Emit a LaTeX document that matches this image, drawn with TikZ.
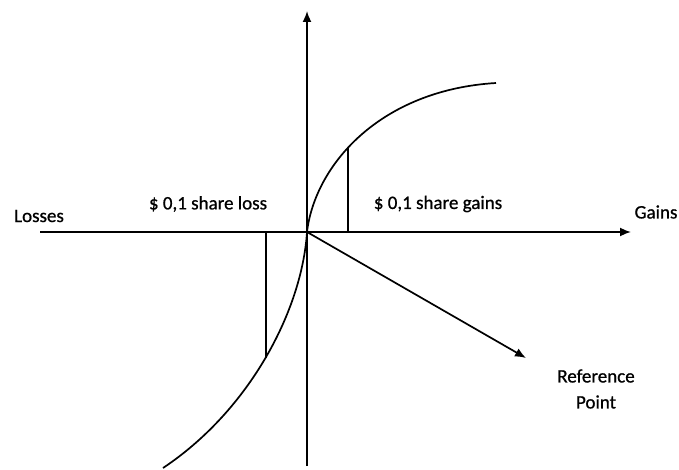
\documentclass[tikz,border=0pt]{standalone}
\usepackage{fontspec}
\setmainfont{Carlito}
\newfontfamily\lblfont{Carlito}[FakeBold=0.8]
\usetikzlibrary{arrows.meta}
\begin{document}
\begin{tikzpicture}[x=1pt,y=-1pt,
  axis/.style={line width=1.7pt,-{Latex[length=11pt,width=9pt]}},
  curveline/.style={line width=1.7pt},
  lbl/.style={font=\lblfont\fontsize{19}{22}\selectfont,inner sep=0pt,align=center}]
\useasboundingbox (0,0) rectangle (679,470);
\coordinate (O) at (307,232);
\coordinate (xl) at (40,232);
\coordinate (xr) at (631,232);
\coordinate (yb) at (307,466);
\coordinate (yt) at (307,11);
\coordinate (ref) at (526,358);
\coordinate (cb) at (163,468);
\coordinate (ct) at (496,83);
\coordinate (gtop) at (348,147);
\coordinate (gbase) at (348,232);
\coordinate (lbot) at (266,358);
\coordinate (lbase) at (266,232);
\draw[axis] (xl) -- (xr);
\draw[axis] (yb) -- (yt);
\draw[axis] (O) -- (ref);
\draw[curveline] (cb) .. controls (250,410) and (302,310) .. (O)
  .. controls (315,165) and (380,90) .. (ct);
\draw[curveline] (gbase) -- (gtop);
\draw[curveline] (lbase) -- (lbot);
\node[lbl] (losses) at (39,216) {Losses};
\node[lbl] (gains) at (656,212) {Gains};
\node[lbl] (sloss) at (208,204) {\$ 0,1 share loss};
\node[lbl] (sgain) at (438,204) {\$ 0,1 share gains};
\node[lbl] (refp) at (596,389) {Reference\\[4pt]Point};
\end{tikzpicture}
\end{document}
